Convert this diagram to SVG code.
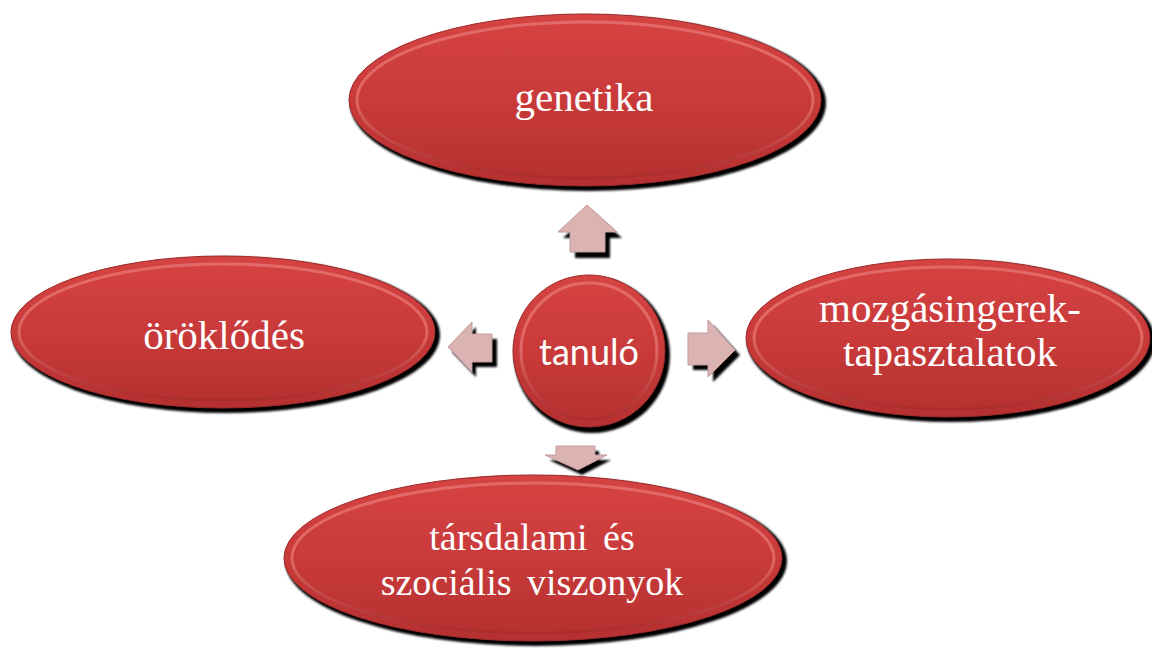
<svg xmlns="http://www.w3.org/2000/svg" width="1152" height="656" viewBox="0 0 1152 656">
<defs>
<linearGradient id="red" x1="0" y1="0" x2="0" y2="1">
<stop offset="0" stop-color="#d64343"/>
<stop offset="0.5" stop-color="#c93a3a"/>
<stop offset="1" stop-color="#b53030"/>
</linearGradient>
<linearGradient id="rim" x1="0" y1="0" x2="0" y2="1">
<stop offset="0" stop-color="#ea7a7a" stop-opacity="0.7"/>
<stop offset="0.5" stop-color="#f08a8a" stop-opacity="0.55"/>
<stop offset="1" stop-color="#a02828" stop-opacity="0.5"/>
</linearGradient>
<filter id="sh" x="-10%" y="-10%" width="120%" height="130%">
<feGaussianBlur stdDeviation="1.2"/>
</filter>
</defs>
<style>
.shadow{fill:#000;filter:url(#sh)}
.body{fill:url(#red);stroke:#9e2a2a;stroke-width:1}
.bevel{fill:none;stroke:url(#rim);stroke-width:3}
.lbl{font-family:"Liberation Serif","DejaVu Serif",serif;fill:#fff;text-anchor:middle}
.clbl{font-family:Lato,"Open Sans",sans-serif;fill:#fff;text-anchor:middle}
.arr{fill:#dcb3b3;stroke:#c49a9a;stroke-width:1}
.arrsh{fill:#000;filter:url(#sh)}
</style>
<rect width="1152" height="656" fill="#fff"/>

<g id="node-genetika">
<ellipse class="shadow" cx="588" cy="103" rx="238" ry="88"/>
<ellipse class="body" cx="585" cy="100" rx="236" ry="86"/>
<ellipse class="bevel" cx="585" cy="100" rx="228" ry="78"/>
<text class="lbl" x="584" y="111" font-size="41">genetika</text>
</g>

<g id="node-oroklodes">
<ellipse class="shadow" cx="226" cy="335" rx="214" ry="78"/>
<ellipse class="body" cx="223" cy="332" rx="212" ry="76"/>
<ellipse class="bevel" cx="223" cy="332" rx="204" ry="68"/>
<text class="lbl" x="224" y="349" font-size="41">&#246;r&#246;kl&#337;d&#233;s</text>
</g>

<g id="node-mozgas">
<ellipse class="shadow" cx="951" cy="341" rx="204" ry="81"/>
<ellipse class="body" cx="948" cy="338" rx="202" ry="79"/>
<ellipse class="bevel" cx="948" cy="338" rx="194" ry="71"/>
<text class="lbl" x="950" y="322" font-size="41">mozg&#225;singerek-</text>
<text class="lbl" x="950" y="366" font-size="41">tapasztalatok</text>
</g>

<g id="node-tarsadalmi">
<ellipse class="shadow" cx="536" cy="561" rx="251" ry="85"/>
<ellipse class="body" cx="533" cy="558" rx="249" ry="83"/>
<ellipse class="bevel" cx="533" cy="558" rx="241" ry="75"/>
<text class="lbl" x="532" y="550" font-size="38" word-spacing="6">t&#225;rsdalami &#233;s</text>
<text class="lbl" x="532" y="595" font-size="38" word-spacing="6">szoci&#225;lis viszonyok</text>
</g>

<g id="node-tanulo">
<circle class="shadow" cx="592" cy="355" r="78"/>
<circle class="body" cx="589" cy="351" r="76"/>
<circle class="bevel" cx="589" cy="351" r="68"/>
<text class="clbl" x="589" y="365" font-size="36">tanul&#243;</text>
</g>

<g id="connectors">
<polygon class="arrsh" points="592,211 622,238 610,238 610,258 575,258 575,238 563,238"/>
<polygon class="arr" points="587,205 617,232 605,232 605,252 570,252 570,232 558,232"/>
<polygon class="arrsh" points="452,352 476,327 476,339 497,339 497,367 476,367 476,377"/>
<polygon class="arr" points="448,347 472,322 472,334 492,334 492,362 472,362 472,372"/>
<polygon class="arrsh" points="693,338 713,338 713,325 740,355 713,382 713,370 693,370"/>
<polygon class="arr" points="688,333 708,333 708,320 735,350 708,377 708,365 688,365"/>
<polygon class="arrsh" points="560,451 599,451 599,460 611,460 582,475 549,460 560,460"/>
<polygon class="arr" points="556,446 595,446 595,455 607,455 578,470 545,455 556,455"/>
</g>
</svg>
